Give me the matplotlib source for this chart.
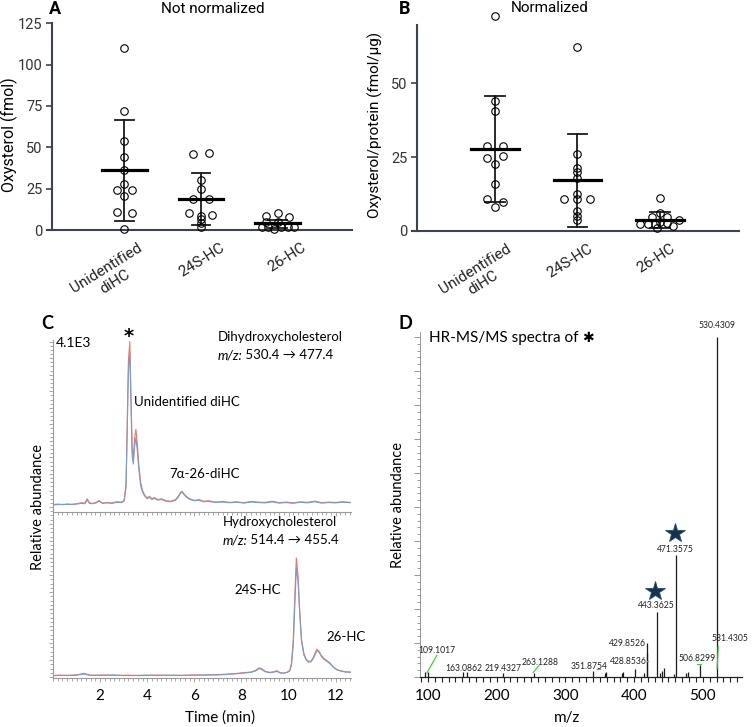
import matplotlib
matplotlib.use('Agg')
import matplotlib.pyplot as plt
from matplotlib.ticker import MultipleLocator

plt.rcParams['font.family'] = ['Lato', 'DejaVu Sans']

# ---------------- A / B : oxysterol per sample ----------------
categories = ['Unidentified\ndiHC', '24S-HC', '26-HC']

# not normalized (fmol)
a_vals = [
    [110, 71.9, 53.7, 44.1, 36.5, 28.0, 24.4, 24.4, 20.6, 11.0, 10.4, 0.6],
    [45.8, 46.7, 30.5, 25.0, 19.0, 18.8, 10.4, 9.0, 8.4, 6.4, 4.0, 1.6],
    [8.2, 10.0, 7.6, 5.0, 5.0, 2.0, 2.0, 0.6, 2.0, 2.0, 1.6],
]
a_jitter = [
    [0, 0, 0, 0, 0, 0, -0.1, 0.1, 0, -0.1, 0.1, 0],
    [-0.1, 0.1, 0, 0, -0.1, 0.1, -0.15, 0.14, 0, 0, 0, 0],
    [-0.15, 0, 0.15, -0.15, 0, -0.21, -0.12, -0.05, 0.05, 0.14, 0.21],
]
a_mean = [36.5, 18.8, 4.2]
a_lo = [5.6, 3.2, 1.5]
a_hi = [66.7, 34.3, 6.2]

# normalized (fmol/ug)
b_vals = [
    [72.7, 43.9, 40.5, 28.7, 28.7, 24.7, 25.4, 22.5, 15.8, 10.7, 9.8, 8.2],
    [62.3, 25.9, 21.4, 20.0, 18.0, 12.4, 10.9, 10.9, 10.9, 6.8, 5.2, 3.7],
    [11.3, 6.2, 4.8, 4.6, 2.9, 2.3, 2.3, 2.3, 2.6, 1.7, 3.7, 1.1],
]
b_jitter = [
    [0, 0, 0, -0.1, 0.1, -0.1, 0.1, 0, 0, -0.1, 0.1, 0],
    [0, 0, 0, 0, 0, 0, -0.16, 0, 0.15, 0, 0, 0],
    [0, 0, -0.1, 0.09, 0, -0.24, -0.15, -0.06, 0.09, 0.16, 0.23, -0.04],
]
b_mean = [27.6, 17.2, 3.7]
b_lo = [9.7, 1.5, 1.0]
b_hi = [45.7, 32.9, 6.5]

# ---------------- C : chromatograms ----------------
t_top = [0.0, 0.2, 0.4, 0.6, 0.8, 1.0, 1.2, 1.35, 1.45, 1.55,
         1.7, 1.85, 1.95, 2.1, 2.3, 2.5, 2.7, 2.9, 3.02, 3.1,
         3.15, 3.2, 3.26, 3.31, 3.36, 3.41, 3.46, 3.52, 3.58, 3.64,
         3.72, 3.8, 3.9, 4.0, 4.1, 4.2, 4.3, 4.45, 4.6, 4.8,
         5.0, 5.2, 5.32, 5.42, 5.48, 5.56, 5.66, 5.8, 6.0, 6.2,
         6.4, 6.6, 6.9, 7.2, 7.5, 7.8, 8.1, 8.4, 8.7, 9.0,
         9.3, 9.6, 9.9, 10.2, 10.5, 10.8, 11.1, 11.4, 11.7, 12.0,
         12.3, 12.65]
red_top = [1.5, 1.8, 1.4, 1.9, 1.5, 2.0, 2.6, 2.4, 5.0, 2.5,
           2.2, 3.0, 4.0, 2.2, 2.8, 2.5, 3.2, 3.0, 4.0, 14,
           50, 88, 100, 68, 35, 30, 41, 47, 38, 26,
           15, 10, 7, 5.5, 6.5, 5.0, 5.8, 4.5, 5.0, 3.8,
           3.5, 4.5, 6.5, 9.0, 9.5, 8.0, 6.5, 5.0, 4.0, 4.5,
           3.5, 3.8, 3.0, 3.4, 2.8, 3.2, 2.6, 3.4, 3.0, 2.8,
           3.5, 2.6, 3.0, 2.5, 3.2, 2.8, 3.6, 2.6, 3.0, 2.8,
           3.2, 2.8]
blue_top = [1.2, 1.5, 1.6, 1.5, 1.7, 1.8, 2.2, 2.0, 4.2, 2.2,
            2.0, 2.6, 3.5, 2.4, 2.5, 2.2, 2.8, 2.7, 3.6, 12,
            45, 82, 94, 62, 31, 26, 36, 42, 34, 23,
            13, 9, 6.5, 5.0, 6.0, 4.6, 5.2, 4.2, 4.6, 3.5,
            3.2, 4.0, 6.0, 8.5, 9.0, 7.5, 6.0, 4.6, 3.8, 4.0,
            3.2, 3.4, 2.8, 3.0, 2.6, 2.9, 2.4, 3.0, 2.7, 2.5,
            3.1, 2.4, 2.7, 2.3, 2.9, 2.5, 3.2, 2.4, 2.7, 2.5,
            2.9, 2.6]

t_bot = [0.0, 0.3, 0.6, 0.9, 1.1, 1.3, 1.6, 1.9, 2.2, 2.5,
         2.8, 3.2, 3.6, 4.0, 4.5, 5.0, 5.5, 6.0, 6.5, 7.0,
         7.4, 7.8, 8.1, 8.4, 8.6, 8.75, 8.85, 9.0, 9.2, 9.4,
         9.5, 9.65, 9.8, 9.95, 10.05, 10.12, 10.2, 10.27, 10.33, 10.4,
         10.47, 10.55, 10.65, 10.75, 10.85, 10.95, 11.05, 11.12, 11.2, 11.3,
         11.4, 11.5, 11.6, 11.75, 11.9, 12.05, 12.2, 12.4, 12.65]
red_bot = [1.0, 1.2, 0.9, 1.3, 1.6, 2.2, 1.2, 1.0, 1.3, 1.1,
           1.0, 1.2, 0.9, 1.0, 1.2, 1.0, 1.1, 1.3, 1.2, 1.5,
           1.8, 2.2, 2.6, 3.0, 4.0, 5.5, 5.0, 3.5, 2.8, 3.2,
           3.8, 2.6, 2.2, 3.0, 4.0, 8, 22, 50, 70, 60,
           40, 22, 14, 10.5, 9.2, 9.5, 11.5, 14, 16.5, 15,
           12.5, 11, 10, 8.5, 6.0, 4.5, 3.8, 3.2, 3.0]
blue_bot = [0.8, 1.0, 1.1, 1.0, 1.4, 1.8, 1.0, 1.2, 1.0, 1.3,
            1.1, 0.9, 1.1, 1.2, 1.0, 1.2, 1.0, 1.1, 1.4, 1.3,
            1.6, 2.0, 2.4, 2.8, 3.6, 5.0, 4.6, 3.2, 2.6, 3.0,
            3.4, 2.4, 2.4, 2.8, 3.6, 7, 19, 44, 64, 57,
            38, 21, 13, 10, 8.8, 9.0, 11, 13, 15.5, 14.5,
            12, 10.5, 9.5, 8, 5.8, 4.3, 3.6, 3.0, 2.8]

# ---------------- D : MS/MS spectrum ----------------
peak_mz = [96, 100, 151, 157, 209, 254, 340, 358, 359.5, 383, 384.5, 401, 414,
           418.5, 419.3, 433, 438, 440.5, 443, 458, 461, 475, 478, 496, 521]
peak_int = [1.5, 1.5, 1.5, 1.5, 1.2, 1.2, 1.8, 1.2, 1.5, 1.2, 1.6, 2.5, 1.2,
            7, 10, 19, 1.2, 1.8, 2.6, 0.9, 36, 1.3, 1.5, 3.5, 100]


def px(x, y):
    return x / 753, 1 - y / 727


def box(l, t, r, b):
    return [l / 753, 1 - b / 727, (r - l) / 753, (b - t) / 727]


fig = plt.figure(figsize=(7.53, 7.27), dpi=100)

ROBOTO = ['Roboto', 'DejaVu Sans']
SPINE = '#3b4252'


def dot_panel(ax, vals, jit, mean, lo, hi, ytop, yticks, xlim, spine_x, lab_dx):
    for i in range(3):
        xs = [i + j for j in jit[i]]
        ax.plot([i, i], [lo[i], hi[i]], color='#1a1a1a', lw=1.3, zorder=2)
        ax.plot([i - 0.12, i + 0.12], [lo[i], lo[i]], color='#1a1a1a', lw=1.3, zorder=2)
        ax.plot([i - 0.12, i + 0.12], [hi[i], hi[i]], color='#1a1a1a', lw=1.3, zorder=2)
        ax.plot([i - 0.29, i + 0.29], [mean[i], mean[i]], color='black', lw=2.3, zorder=2)
        ax.plot(xs, vals[i], 'o', ms=5.4, mfc='none', mec='black', mew=0.8,
                clip_on=False, zorder=3)
        ax.text(i + lab_dx[i], -ytop * 0.05, categories[i], rotation=32,
                rotation_mode='anchor', ha='right', va='top', multialignment='center',
                fontsize=11, family=ROBOTO, color='#222222')
    ax.set_xlim(*xlim)
    ax.set_ylim(0, ytop)
    ax.set_xticks([])
    ax.set_yticks(yticks)
    for s in ['top', 'right']:
        ax.spines[s].set_visible(False)
    ax.spines['left'].set_position(('data', spine_x))
    for s in ['left', 'bottom']:
        ax.spines[s].set_color(SPINE)
        ax.spines[s].set_linewidth(1.5)
    ax.tick_params(axis='y', length=4, width=1.2, color=SPINE, pad=3,
                   labelsize=10.5, labelcolor='#333333')
    for lab in ax.get_yticklabels():
        lab.set_fontfamily(ROBOTO)
    ax.patch.set_alpha(0)


axA = fig.add_axes(box(47, 23.3, 352, 230))
dot_panel(axA, a_vals, a_jitter, a_mean, a_lo, a_hi, 125, [0, 25, 50, 75, 100, 125],
          (-1.009, 2.97), -0.944, [0.17, 0.25, 0.31])

axB = fig.add_axes(box(412, 25, 739, 231))
dot_panel(axB, b_vals, b_jitter, b_mean, b_lo, b_hi, 69.6, [0, 25, 50],
          (-1.006, 2.958), -0.945, [0.13, 0.13, 0.12])

fig.text(*px(9, 135), 'Oxysterol (fmol)', rotation=90, ha='center', va='center',
         fontsize=11.5, family=ROBOTO)
fig.text(*px(375, 125), 'Oxysterol/protein (fmol/µg)', rotation=90, ha='center',
         va='center', fontsize=11, family=ROBOTO)
fig.text(*px(213, 9), 'Not normalized', ha='center', va='center', fontsize=11, family=ROBOTO)
fig.text(*px(550, 8), 'Normalized', ha='center', va='center', fontsize=11, family=ROBOTO)
fig.text(*px(55, 9), 'A', ha='center', va='center', fontsize=13, fontweight='bold', family=ROBOTO)
fig.text(*px(405, 9), 'B', ha='center', va='center', fontsize=13, fontweight='bold', family=ROBOTO)

# ---- C ----
RED = '#e8776f'
BLUE = '#7b9cbf'
GRAY = '#9a9a9a'

axC1 = fig.add_axes(box(53, 340, 351, 512))
axC2 = fig.add_axes(box(53, 512, 351, 678))
axC1.plot(t_top, red_top, color=RED, lw=0.8)
axC1.plot(t_top, blue_top, color=BLUE, lw=0.8)
axC2.plot(t_bot, red_bot, color=RED, lw=0.8)
axC2.plot(t_bot, blue_bot, color=BLUE, lw=0.8)
axC1.set_ylim(-3, 101)
axC2.set_ylim(-0.5, 97)
for ax in (axC1, axC2):
    ax.set_xlim(0, 12.65)
    for s in ['top', 'right']:
        ax.spines[s].set_visible(False)
    for s in ['left', 'bottom']:
        ax.spines[s].set_color(GRAY)
        ax.spines[s].set_linewidth(0.8)
    ax.xaxis.set_major_locator(MultipleLocator(2))
    ax.xaxis.set_minor_locator(MultipleLocator(0.2))
    ax.yaxis.set_major_locator(MultipleLocator(10))
    ax.yaxis.set_minor_locator(MultipleLocator(2.5))
    ax.tick_params(which='both', color=GRAY, width=0.6, labelleft=False)
    ax.tick_params(which='major', length=3)
    ax.tick_params(which='minor', length=2)
    ax.patch.set_alpha(0)
axC1.tick_params(labelbottom=False)
axC2.set_xticks([2, 4, 6, 8, 10, 12])
axC2.tick_params(axis='x', labelsize=11, pad=5)

axC1.text(0.13, 99, '4.1E3', ha='left', va='center', fontsize=10)
axC1.text(3.23, 103, '*', ha='center', va='center', fontsize=14, fontweight='bold',
          family=['DejaVu Sans'], clip_on=False)
axC1.text(6.98, 102.8, 'Dihydroxycholesterol', ha='left', va='center', fontsize=9.5,
          clip_on=False)
m1 = axC1.text(6.98, 91.9, 'm/z:', ha='left', va='center', fontsize=9.5, style='italic')
axC1.annotate(' 530.4 → 477.4', xy=(1, 0), xycoords=m1, ha='left', va='bottom', fontsize=9.5)
axC1.text(3.45, 63.5, 'Unidentified diHC', ha='left', va='center', fontsize=9.5)
axC1.text(4.94, 20, '7α-26-diHC', ha='left', va='center', fontsize=9.5)
axC2.text(7.19, 91.1, 'Hydroxycholesterol', ha='left', va='center', fontsize=9.5)
m2 = axC2.text(7.19, 80.5, 'm/z:', ha='left', va='center', fontsize=9.5, style='italic')
axC2.annotate(' 514.4 → 455.4', xy=(1, 0), xycoords=m2, ha='left', va='bottom', fontsize=9.5)
axC2.text(7.7, 51.2, '24S-HC', ha='left', va='center', fontsize=9.5)
axC2.text(11.62, 23.6, '26-HC', ha='left', va='center', fontsize=9.5, clip_on=False)

fig.text(*px(38, 507), 'Relative abundance', rotation=90, ha='center', va='center', fontsize=10.5)
fig.text(*px(220, 718), 'Time (min)', ha='center', va='center', fontsize=11)
fig.text(*px(47, 323), 'C', ha='center', va='center', fontsize=13, fontweight='bold')

# ---- D ----
axD = fig.add_axes(box(420, 332, 742, 677))
axD.vlines(peak_mz, 0, peak_int, color='#1a1a1a', lw=0.9)
axD.set_xlim(88.4, 557)
axD.set_ylim(0, 101.5)
for s in ['top', 'right']:
    axD.spines[s].set_visible(False)
axD.spines['left'].set_color('#888888')
axD.spines['left'].set_linewidth(0.6)
axD.spines['bottom'].set_color('#222222')
axD.spines['bottom'].set_linewidth(0.9)
axD.xaxis.set_major_locator(MultipleLocator(100))
axD.xaxis.set_minor_locator(MultipleLocator(10))
axD.yaxis.set_major_locator(MultipleLocator(10))
axD.yaxis.set_minor_locator(MultipleLocator(2))
axD.tick_params(axis='y', which='both', color='#888888', width=0.6, labelleft=False)
axD.tick_params(axis='y', which='major', length=4)
axD.tick_params(axis='y', which='minor', length=2.5)
axD.tick_params(axis='x', which='both', color='#222222', width=0.8, length=3.5)
axD.tick_params(axis='x', labelsize=11, pad=5)
axD.patch.set_alpha(0)

peak_labels = [
    ('530.4309', 521, 103.5, 'center'),
    ('471.3575', 459.5, 37.6, 'center'),
    ('443.3625', 433, 20.9, 'center'),
    ('429.8526', 391, 10.0, 'center'),
    ('428.8536', 391, 4.7, 'center'),
    ('506.8299', 491.5, 5.3, 'center'),
    ('531.4305', 566.5, 11.2, 'right'),
    ('351.8754', 334, 3.2, 'center'),
    ('263.1288', 263, 4.4, 'center'),
    ('219.4327', 209, 2.6, 'center'),
    ('163.0862', 152.4, 2.6, 'center'),
    ('109.1017', 113, 7.9, 'center'),
]
for txt, x, y, ha in peak_labels:
    axD.text(x, y, txt, ha=ha, va='center', fontsize=6.2, color='#222222', clip_on=False)

GREEN = '#33cc33'
axD.plot([113, 98.5], [6.4, 1.2], color=GREEN, lw=0.8)
axD.plot([261.6, 253], [3.4, 1.3], color=GREEN, lw=0.8)
axD.plot([522.4, 520.8], [9.0, 2.4], color=GREEN, lw=0.8)
axD.plot([346, 350], [2.4, 2.4], color=GREEN, lw=0.8)
axD.plot([419.3, 420.3], [4.7, 4.7], color=GREEN, lw=0.8)
axD.plot([491, 497], [3.9, 3.9], color=GREEN, lw=0.8)

axD.plot([459.5, 430.4], [42.4, 25.3], '*', ms=15, color='#17324d', mec='#2a4a66',
         mew=0.6, ls='none')
hr = axD.text(101.5, 99.7, 'HR-MS/MS spectra of ', ha='left', va='center', fontsize=11)
axD.annotate('✱', xy=(1, 0.5), xycoords=hr, ha='left', va='center', fontsize=10,
             family=['DejaVu Sans'])

fig.text(*px(398, 505), 'Relative abundance', rotation=90, ha='center', va='center', fontsize=10.5)
fig.text(*px(567, 718), 'm/z', ha='center', va='center', fontsize=11)
fig.text(*px(405, 323), 'D', ha='center', va='center', fontsize=13, fontweight='bold')

fig.savefig('out.png', dpi=100)
